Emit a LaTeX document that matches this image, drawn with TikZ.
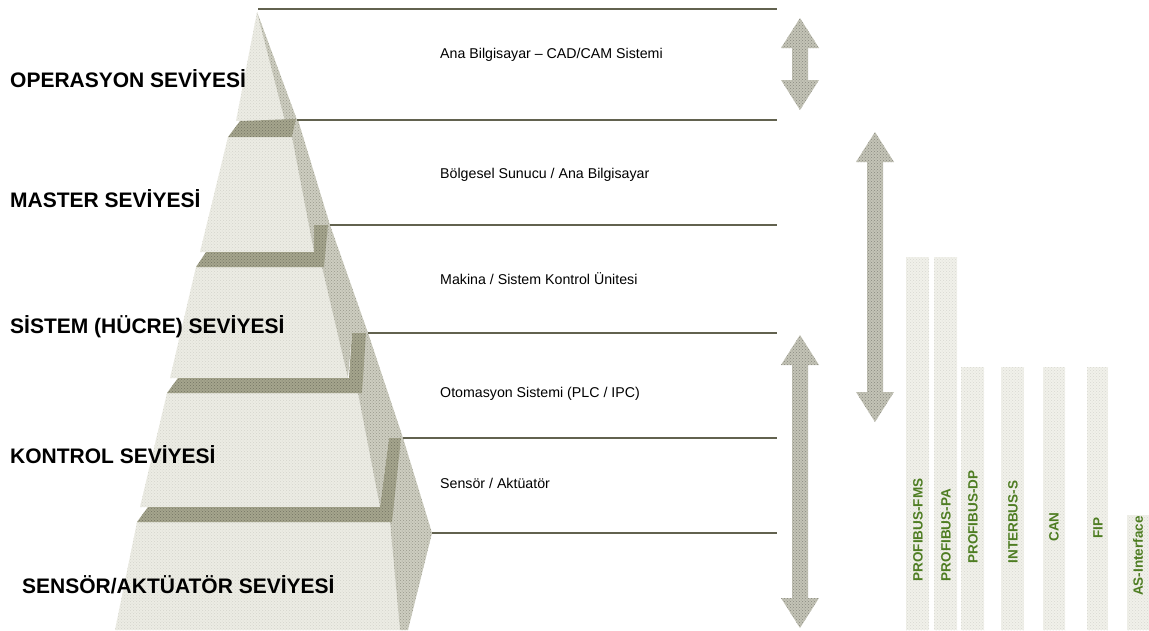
\documentclass[tikz,border=0pt]{standalone}
\usepackage{fontspec}
\setmainfont{Liberation Sans}
\usetikzlibrary{patterns}
\definecolor{facefront}{HTML}{ECECE4}
\definecolor{faceside}{HTML}{CDCDC0}
\definecolor{stepband}{HTML}{A5A58D}
\definecolor{dotgray}{HTML}{A9A99A}
\definecolor{arrowfill}{HTML}{C3C3B6}
\definecolor{busfill}{HTML}{F1F1EA}
\definecolor{busgreen}{HTML}{4E7D22}
\definecolor{rulecol}{HTML}{62624F}

% double-headed block arrow: x, top y, bottom y
\newcommand\blockarrow[3]{%
  \fill[arrowshape] (#1,#2) -- (#1+19,#2+30) -- (#1+8,#2+30) -- (#1+8,#3-30)
    -- (#1+19,#3-30) -- (#1,#3) -- (#1-19,#3-30) -- (#1-8,#3-30)
    -- (#1-8,#2+30) -- (#1-19,#2+30) -- cycle;}

\begin{document}
\begin{tikzpicture}[x=1pt,y=-1pt,
  front/.style={fill=facefront, postaction={pattern=crosshatch dots, pattern color=dotgray!50}},
  side/.style={fill=faceside, postaction={pattern=crosshatch dots, pattern color=dotgray!90!black}},
  band/.style={fill=stepband, postaction={pattern=crosshatch dots, pattern color=stepband!70!black}},
  arrowshape/.style={fill=arrowfill, postaction={pattern=crosshatch dots, pattern color=arrowfill!70!black}},
  buscol/.style={fill=busfill, postaction={pattern=crosshatch dots, pattern color=dotgray!45}},
  levelrule/.style={draw=rulecol, line width=1.8pt},
  lvl/.style={font=\bfseries\fontsize{21}{24}\selectfont, anchor=base west, inner sep=0pt},
  tiertext/.style={font=\fontsize{14.2}{17}\selectfont, anchor=base west, inner sep=0pt},
  bustext/.style={font=\bfseries\fontsize{13.5}{15}\selectfont, text=busgreen, rotate=90, inner sep=0pt}]
\useasboundingbox (0,0) rectangle (1149,630);

% ---------- stepped pyramid ----------
% tier 1 (apex)
\fill[front] (257,12) -- (297,120) -- (236,121) -- cycle;
\fill[side]  (257,12) -- (297,120) -- (285,121) -- cycle;
% tier 2
\fill[front] (228,137) -- (292,137) -- (314,252) -- (200,252) -- cycle;
\fill[side]  (292,137) -- (296,119) -- (298,120) -- (330,225) -- (314,225) -- (314,252) -- cycle;
\fill[band]  (240,121) -- (296,119) -- (292,137) -- (228,137) -- cycle;
% tier 3
\fill[front] (196,267) -- (322,267) -- (348,378) -- (170,378) -- cycle;
\fill[side]  (322,267) -- (328,225) -- (330,225) -- (368,333) -- (352,333) -- (348,378) -- cycle;
\fill[band]  (206,252) -- (314,252) -- (314,225) -- (328,225) -- (324,267) -- (196,267) -- cycle;
% tier 4
\fill[front] (167,393) -- (358,393) -- (380,507) -- (140,507) -- cycle;
\fill[side]  (358,393) -- (366,333) -- (368,333) -- (403,438) -- (389,438) -- (380,507) -- cycle;
\fill[band]  (178,378) -- (349,378) -- (352,333) -- (366,333) -- (362,393) -- (167,393) -- cycle;
% tier 5
\fill[front] (137,522) -- (390,522) -- (400,630) -- (115,630) -- cycle;
\fill[side]  (390,522) -- (401,438) -- (403,438) -- (432,533) -- (408,630) -- (400,630) -- cycle;
\fill[band]  (148,507) -- (380,507) -- (389,438) -- (401,438) -- (392,522) -- (137,522) -- cycle;

% ---------- level boundaries ----------
\coordinate (p1) at (258,9);   \coordinate (e1) at (777,9);
\coordinate (p2) at (297,120); \coordinate (e2) at (777,120);
\coordinate (p3) at (330,225); \coordinate (e3) at (777,225);
\coordinate (p4) at (368,333); \coordinate (e4) at (777,333);
\coordinate (p5) at (403,438); \coordinate (e5) at (777,438);
\coordinate (p6) at (432,533); \coordinate (e6) at (777,533);
\foreach \i in {1,...,6} \draw[levelrule] (p\i) -- (e\i);

% ---------- level names ----------
\node[lvl] (lop)  at (10,87)  {OPERASYON SEVİYESİ};
\node[lvl] (lma)  at (10,207) {MASTER SEVİYESİ};
\node[lvl] (lsi)  at (10,333) {SİSTEM (HÜCRE) SEVİYESİ};
\node[lvl] (lko)  at (10,463) {KONTROL SEVİYESİ};
\node[lvl] (lse)  at (22,593) {SENSÖR/AKTÜATÖR SEVİYESİ};

% ---------- equipment per level ----------
\node[tiertext] (t1) at (440,58)  {Ana Bilgisayar – CAD/CAM Sistemi};
\node[tiertext] (t2) at (440,178) {Bölgesel Sunucu / Ana Bilgisayar};
\node[tiertext] (t3) at (440,284) {Makina / Sistem Kontrol Ünitesi};
\node[tiertext] (t4) at (440,397) {Otomasyon Sistemi (PLC / IPC)};
\node[tiertext] (t5) at (440,488) {Sensör / Aktüatör};

% ---------- communication ranges ----------
\blockarrow{800}{18}{110}
\blockarrow{875}{132}{422}
\blockarrow{800}{335}{628}

% ---------- field buses ----------
\fill[buscol] (906,257) rectangle (929,630);
\fill[buscol] (934,257) rectangle (957,630);
\fill[buscol] (961,367) rectangle (984,630);
\fill[buscol] (1001,367) rectangle (1024,630);
\fill[buscol] (1043,367) rectangle (1065,630);
\fill[buscol] (1087,367) rectangle (1108,630);
\fill[buscol] (1127,515) rectangle (1149,630);
\node[bustext] (bfms) at (918,530)  {PROFIBUS-FMS};
\node[bustext] (bpa)  at (946,535)  {PROFIBUS-PA};
\node[bustext] (bdp)  at (973,517)  {PROFIBUS-DP};
\node[bustext] (bint) at (1013,522) {INTERBUS-S};
\node[bustext] (bcan) at (1054,527) {CAN};
\node[bustext] (bfip) at (1098,528) {FIP};
\node[bustext] (bas)  at (1138,556) {AS-Interface};
\end{tikzpicture}
\end{document}
